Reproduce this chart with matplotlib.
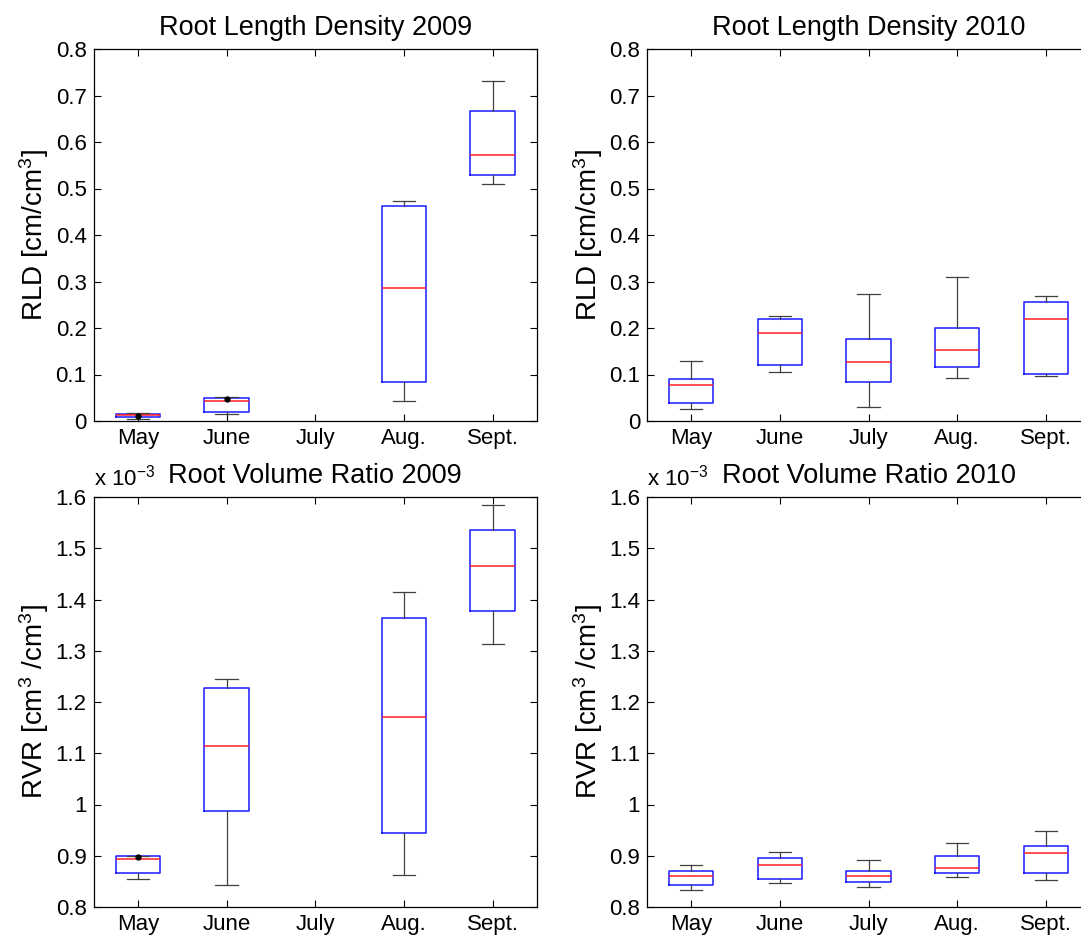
import matplotlib
matplotlib.use("Agg")
import matplotlib.pyplot as plt
import numpy as np

plt.rcParams['font.family'] = ['Liberation Sans', 'DejaVu Sans']
plt.rcParams['mathtext.fontset'] = 'custom'
plt.rcParams['mathtext.rm'] = 'Liberation Sans'
plt.rcParams['mathtext.it'] = 'Liberation Sans'

months = ["May", "June", "July", "Aug.", "Sept."]
nan = np.nan

# RLD 2009 [cm/cm3]
rld09_low = [0.005, 0.015, nan, 0.043, 0.510]
rld09_q1 = [0.008, 0.019, nan, 0.083, 0.528]
rld09_med = [0.012, 0.043, nan, 0.285, 0.572]
rld09_q3 = [0.016, 0.050, nan, 0.463, 0.666]
rld09_high = [0.018, 0.051, nan, 0.474, 0.731]
rld09_dot = [0.010, 0.047, nan, nan, nan]

# RLD 2010
rld10_low = [0.025, 0.106, 0.031, 0.093, 0.096]
rld10_q1 = [0.038, 0.121, 0.083, 0.116, 0.102]
rld10_med = [0.078, 0.189, 0.127, 0.152, 0.220]
rld10_q3 = [0.090, 0.220, 0.176, 0.201, 0.256]
rld10_high = [0.130, 0.225, 0.273, 0.309, 0.269]

# RVR 2009 [x 1e-3]
rvr09_low = [0.854, 0.842, nan, 0.863, 1.313]
rvr09_q1 = [0.866, 0.988, nan, 0.945, 1.378]
rvr09_med = [0.894, 1.115, nan, 1.170, 1.465]
rvr09_q3 = [0.900, 1.228, nan, 1.363, 1.535]
rvr09_high = [0.900, 1.245, nan, 1.415, 1.585]
rvr09_dot = [0.898, nan, nan, nan, nan]

# RVR 2010 [x 1e-3]
rvr10_low = [0.833, 0.846, 0.840, 0.858, 0.852]
rvr10_q1 = [0.842, 0.855, 0.848, 0.867, 0.867]
rvr10_med = [0.860, 0.881, 0.860, 0.876, 0.906]
rvr10_q3 = [0.870, 0.896, 0.870, 0.899, 0.920]
rvr10_high = [0.881, 0.908, 0.891, 0.924, 0.948]

W, H = 1081, 939
fig = plt.figure(figsize=(W / 100, H / 100), dpi=100)
fig.patch.set_facecolor('white')


def axpos(l, r, t, b):
    return [l / W, 1 - b / H, (r - l) / W, (b - t) / H]


def draw(ax, low, q1, med, q3, high, dots, yticks, ylim, title, ylabel, exp=False):
    stats, pos = [], []
    for i in range(len(months)):
        if np.isnan(med[i]):
            continue
        stats.append(dict(whislo=low[i], q1=q1[i], med=med[i], q3=q3[i],
                          whishi=high[i], fliers=[]))
        pos.append(i + 1)
    ax.bxp(stats, positions=pos, widths=0.5, capwidths=0.25, showfliers=False,
           boxprops=dict(color='#1a1aff', lw=1.1),
           medianprops=dict(color='#ff2020', lw=1.1),
           whiskerprops=dict(color='#404040', lw=0.9),
           capprops=dict(color='#404040', lw=0.9))
    if dots is not None:
        xs = [i + 1 for i in range(len(months)) if not np.isnan(dots[i])]
        ys = [d for d in dots if not np.isnan(d)]
        ax.plot(xs, ys, 'o', color='black', ms=3.5, zorder=5)
    ax.set_xlim(0.5, 5.5)
    ax.set_ylim(*ylim)
    ax.set_xticks(range(1, 6))
    ax.set_xticklabels(months)
    ax.set_yticks(yticks)
    ax.set_yticklabels([('%g' % v) for v in yticks])
    ax.tick_params(direction='in', top=True, right=True, length=5,
                   labelsize=16, width=0.8, pad=5)
    for s in ax.spines.values():
        s.set_linewidth(0.9)
    ax.set_title(title, fontsize=19.5, pad=10)
    ax.set_ylabel(ylabel, fontsize=20, labelpad=3)
    if exp:
        ax.text(0.0, 1.015, r'x 10$^{-3}$', transform=ax.transAxes,
                fontsize=16, ha='left', va='bottom')


rld_ticks = [0, 0.1, 0.2, 0.3, 0.4, 0.5, 0.6, 0.7, 0.8]
rvr_ticks = [0.8, 0.9, 1.0, 1.1, 1.2, 1.3, 1.4, 1.5, 1.6]

ax1 = fig.add_axes(axpos(93.5, 537, 49, 421))
draw(ax1, rld09_low, rld09_q1, rld09_med, rld09_q3, rld09_high, rld09_dot,
     rld_ticks, (0, 0.8), 'Root Length Density 2009', r'RLD [cm/cm$^3$]')

ax2 = fig.add_axes(axpos(647, 1090, 49, 421))
draw(ax2, rld10_low, rld10_q1, rld10_med, rld10_q3, rld10_high, None,
     rld_ticks, (0, 0.8), 'Root Length Density 2010', r'RLD [cm/cm$^3$]')

ax3 = fig.add_axes(axpos(93.5, 537, 497, 907))
draw(ax3, rvr09_low, rvr09_q1, rvr09_med, rvr09_q3, rvr09_high, rvr09_dot,
     rvr_ticks, (0.8, 1.6), 'Root Volume Ratio 2009', r'RVR [cm$^3$ /cm$^3$]', exp=True)

ax4 = fig.add_axes(axpos(647, 1090, 497, 907))
draw(ax4, rvr10_low, rvr10_q1, rvr10_med, rvr10_q3, rvr10_high, None,
     rvr_ticks, (0.8, 1.6), 'Root Volume Ratio 2010', r'RVR [cm$^3$ /cm$^3$]', exp=True)

fig.savefig('out.png', dpi=100, facecolor='white')
